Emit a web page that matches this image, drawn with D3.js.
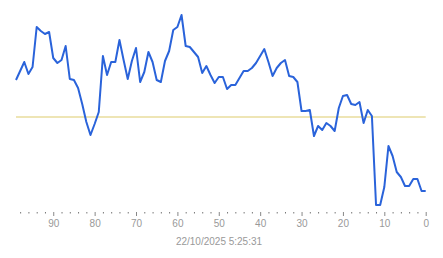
<!DOCTYPE html>
<html>
<head>
<meta charset="utf-8">
<script src="https://cdn.jsdelivr.net/npm/d3@7"></script>
<style>
  html, body { margin: 0; padding: 0; background: #fff; }
  svg { display: block; font-family: "Liberation Sans", Arial, sans-serif; }
</style>
</head>
<body>
<svg id="chart" width="443" height="258"></svg>
<script>
// x positions (age, counting down to 0)
const ages = d3.range(99, -1, -1);
// series values, ordered from age 99 down to age 0
const values = [
  140, 149, 158, 146, 153, 193, 189, 186, 188, 162,
  157, 160, 174, 141, 140, 132, 116,  98,  85,  96,
  108, 164, 145, 158, 158, 180, 160, 141, 159, 172,
  138, 148, 168, 158, 140, 138, 159, 169, 190, 193,
  205, 174, 173, 168, 163, 147, 154, 145, 137, 143,
  143, 131, 135, 135, 142, 149, 149, 152, 157, 164,
  171, 158, 144, 152, 157, 160, 144, 143, 138, 109,
  109, 110,  84,  94,  90,  97,  94,  89, 112, 124,
  125, 116, 115, 118,  97, 110, 104,  15,  15,  33,
   74,  64,  48,  43,  34,  34,  41,  41,  29,  29
];
const referenceValue = 103;
const majorTicks = [90, 80, 70, 60, 50, 40, 30, 20, 10, 0];
const minorTicks = d3.range(98, -1, -2).filter(v => v % 10 !== 0);
const caption = "22/10/2025 5:25:31";

const svg = d3.select("#chart");
const x = d3.scaleLinear().domain([99, 0]).range([16, 425.7]);
const y = d3.scaleLinear().domain([0, 220]).range([220, 0]);
const axisY = 212;

// reference line
svg.append("line")
  .attr("x1", x(99)).attr("x2", x(0))
  .attr("y1", y(referenceValue)).attr("y2", y(referenceValue))
  .attr("stroke", "#e8dc9c").attr("stroke-width", 1.5);

// series line
const data = ages.map((a, i) => ({ a, v: values[i] }));
svg.append("path")
  .datum(data)
  .attr("fill", "none")
  .attr("stroke", "#2a63da")
  .attr("stroke-width", 2)
  .attr("stroke-linejoin", "round")
  .attr("d", d3.line().x(d => x(d.a)).y(d => y(d.v)));

// minor ticks
const minorAxis = svg.append("g")
  .attr("transform", `translate(0,${axisY})`)
  .call(d3.axisBottom(x).tickValues(minorTicks).tickSize(1.5).tickFormat(""));
minorAxis.select(".domain").remove();
minorAxis.selectAll("line").attr("stroke", "#777");

// major ticks
const majorAxis = svg.append("g")
  .attr("transform", `translate(0,${axisY})`)
  .call(d3.axisBottom(x).tickValues(majorTicks).tickSize(4).tickPadding(4).tickFormat(d3.format("d")));
majorAxis.select(".domain").remove();
majorAxis.selectAll("line").attr("stroke", "#888");
majorAxis.selectAll("text")
  .attr("fill", "#999")
  .style("font-size", "10px")
  .style("font-family", "'Liberation Sans', Arial, sans-serif");

// caption
svg.append("text")
  .attr("x", 219).attr("y", 244.5)
  .attr("text-anchor", "middle")
  .attr("fill", "#999")
  .style("font-size", "10px")
  .text(caption);
</script>
</body>
</html>
